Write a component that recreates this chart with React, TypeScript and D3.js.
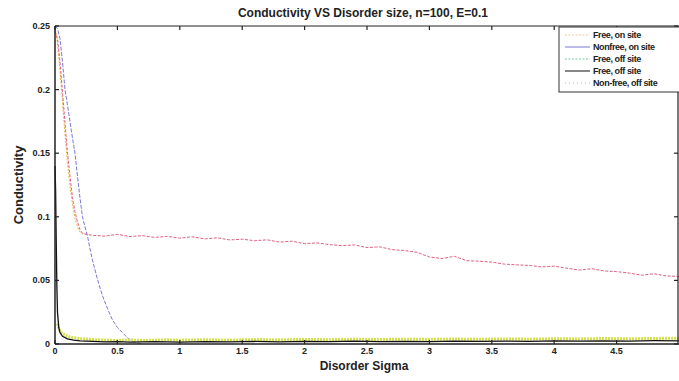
import React from "react";
import * as d3 from "d3";

const xTicks = [0, 0.5, 1, 1.5, 2, 2.5, 3, 3.5, 4, 4.5];
const yTicks = [0, 0.05, 0.1, 0.15, 0.2, 0.25];
const yTickLabels = ["0", "0.05", "0.1", "0.15", "0.2", "0.25"];
const xTickLabels = ["0", "0.5", "1", "1.5", "2", "2.5", "3", "3.5", "4", "4.5"];

// Free, on site
const freeOnX = [0, 0.02, 0.04, 0.06, 0.08, 0.1, 0.12, 0.14, 0.16, 0.18, 0.2, 0.22, 0.26];
const freeOnY = [0.25, 0.236, 0.215, 0.19, 0.165, 0.142, 0.124, 0.11, 0.099, 0.092, 0.088, 0.087, 0.086];

// Nonfree, on site
const nonfreeOnX = [0, 0.02, 0.04, 0.06, 0.08, 0.1, 0.12, 0.14, 0.16, 0.18, 0.2, 0.22, 0.24, 0.26, 0.28, 0.3, 0.34, 0.38, 0.42, 0.46, 0.5, 0.54, 0.58, 0.62, 0.66, 0.7];
const nonfreeOnY = [0.25, 0.248, 0.24, 0.222, 0.2, 0.188, 0.175, 0.162, 0.15, 0.132, 0.115, 0.1, 0.092, 0.085, 0.075, 0.066, 0.051, 0.038, 0.028, 0.019, 0.013, 0.009, 0.005, 0.002, 0.0006, 0.0003];

// Free, off site (dotted)
const freeOffDotX = [0.02, 0.03, 0.05, 0.08, 0.12, 0.2, 0.3, 0.4, 0.5, 0.6, 0.7, 0.8, 0.9, 1.0, 1.2, 1.4, 1.6, 1.8, 2.0, 2.2, 2.4, 2.6, 2.8, 3.0, 3.2, 3.4, 3.6, 3.8, 4.0, 4.2, 4.4, 4.6, 4.8, 5.0];
const freeOffDotY = [0.016, 0.012, 0.009, 0.007, 0.0055, 0.0042, 0.0035, 0.0031, 0.0029, 0.0032, 0.0028, 0.0031, 0.0033, 0.003, 0.0034, 0.0031, 0.0035, 0.0033, 0.0036, 0.0034, 0.0037, 0.0035, 0.0038, 0.0036, 0.0039, 0.0037, 0.004, 0.0038, 0.0041, 0.004, 0.0043, 0.0041, 0.0044, 0.0045];

// Free, off site (solid)
const freeOffX = [0, 0.005, 0.01, 0.015, 0.02, 0.03, 0.04, 0.06, 0.1, 0.15, 0.2, 0.3, 0.4, 0.5, 0.6, 0.8, 1.0, 1.2, 1.4, 1.6, 1.8, 2.0, 2.2, 2.4, 2.6, 2.8, 3.0, 3.2, 3.4, 3.6, 3.8, 4.0, 4.2, 4.4, 4.6, 4.8, 5.0];
const freeOffY = [0.14, 0.12, 0.08, 0.045, 0.025, 0.013, 0.009, 0.006, 0.004, 0.003, 0.0025, 0.002, 0.0016, 0.0019, 0.0014, 0.0018, 0.0015, 0.0019, 0.0016, 0.002, 0.0017, 0.0021, 0.0018, 0.0022, 0.0019, 0.0021, 0.0018, 0.0022, 0.002, 0.0023, 0.0021, 0.0024, 0.0022, 0.0025, 0.0023, 0.0026, 0.0025];

// Non-free, off site
const nonfreeOffX = [0, 0.02, 0.04, 0.06, 0.08, 0.1, 0.12, 0.14, 0.16, 0.18, 0.2, 0.22, 0.26, 0.3, 0.4, 0.5, 0.6, 0.7, 0.8, 0.9, 1.0, 1.1, 1.2, 1.3, 1.4, 1.5, 1.6, 1.7, 1.8, 1.9, 2.0, 2.1, 2.2, 2.3, 2.4, 2.5, 2.6, 2.7, 2.8, 2.9, 3.0, 3.1, 3.2, 3.3, 3.4, 3.5, 3.6, 3.7, 3.8, 3.9, 4.0, 4.1, 4.2, 4.3, 4.4, 4.5, 4.6, 4.7, 4.8, 4.9, 5.0];
const nonfreeOffY = [0.246, 0.24, 0.222, 0.198, 0.174, 0.15, 0.132, 0.115, 0.104, 0.096, 0.09, 0.087, 0.086, 0.0855, 0.0848, 0.0862, 0.0845, 0.0852, 0.0838, 0.0846, 0.0832, 0.0843, 0.0826, 0.0835, 0.0818, 0.0824, 0.0812, 0.0819, 0.0801, 0.0808, 0.0789, 0.0795, 0.0781, 0.0774, 0.0779, 0.0758, 0.0764, 0.0742, 0.0735, 0.0721, 0.0684, 0.0672, 0.0689, 0.0655, 0.0651, 0.0644, 0.0628, 0.0622, 0.0618, 0.0606, 0.0612, 0.0596, 0.0581, 0.0592, 0.0574, 0.0569, 0.0558, 0.0541, 0.0552, 0.0535, 0.0531];

const legendLabels = ["Free, on site", "Nonfree, on site", "Free, off site", "Free, off site", "Non-free, off site"];

const W = 679;
const H = 381;
const left = 55;
const right = 679;
const top = 26;
const bottom = 344;

export default function App() {
  const x = d3.scaleLinear().domain([0, 5]).range([left, right]);
  const y = d3.scaleLinear().domain([0, 0.25]).range([bottom, top]);
  const mk = (xs: number[], ys: number[]) =>
    d3.line<number>().x((_, i) => x(xs[i])).y((_, i) => y(ys[i]))(ys.map((v) => v)) || "";

  const series = [
    { xs: freeOnX, ys: freeOnY, color: "#e8b838", width: 1, dash: "2,1.5" },
    { xs: nonfreeOnX, ys: nonfreeOnY, color: "#7a78d8", width: 1, dash: "4,1.5" },
    { xs: freeOffDotX, ys: freeOffDotY, color: "#d4e050", width: 3, dash: "2,1" },
    { xs: freeOffX, ys: freeOffY, color: "#111111", width: 1.3, dash: "" },
    { xs: nonfreeOffX, ys: nonfreeOffY, color: "#e06080", width: 1, dash: "3,1.5" },
  ];
  const legendColors = ["#e8c8a0", "#7a78d8", "#78c8a0", "#111111", "#e8a0b0"];
  const legendDash = ["2,1.5", "", "2,1.5", "", "1,3"];

  const font = "'Liberation Sans', Arial, sans-serif";
  const legY = [35, 47, 59, 71, 83];

  return (
    <svg width={W} height={H} style={{ position: "absolute", left: 0, top: 0, background: "#fff" }}>
      <rect x={0} y={0} width={W} height={H} fill="#fff" />
      <g>
        {series.map((s, i) => (
          <path key={i} d={mk(s.xs, s.ys)} fill="none" stroke={s.color} strokeWidth={s.width} strokeDasharray={s.dash || undefined} />
        ))}
      </g>
      <line x1={left} y1={top} x2={right} y2={top} stroke="#222" strokeWidth={1.2} />
      <line x1={left} y1={top} x2={left} y2={bottom} stroke="#222" strokeWidth={1.5} />
      <line x1={left} y1={bottom} x2={right} y2={bottom} stroke="#222" strokeWidth={1.5} />
      <line x1={right - 1} y1={top} x2={right - 1} y2={bottom} stroke="#222" strokeWidth={1.2} />
      {xTicks.map((t, i) => (
        <g key={"xt" + i}>
          <line x1={x(t)} x2={x(t)} y1={bottom} y2={bottom - 4} stroke="#222" strokeWidth={1.2} />
          <line x1={x(t)} x2={x(t)} y1={top} y2={top + 4} stroke="#222" strokeWidth={1.2} />
          <text x={x(t)} y={354} textAnchor="middle" fontFamily={font} fontWeight="bold" fontSize={9} fill="#222">
            {xTickLabels[i]}
          </text>
        </g>
      ))}
      {yTicks.map((t, i) => (
        <g key={"yt" + i}>
          <line x1={left} x2={left + 4} y1={y(t)} y2={y(t)} stroke="#222" strokeWidth={1.2} />
          <line x1={right - 1} x2={right - 5} y1={y(t)} y2={y(t)} stroke="#222" strokeWidth={1.2} />
          <text x={50} y={y(t) + 3} textAnchor="end" fontFamily={font} fontWeight="bold" fontSize={9} fill="#222">
            {yTickLabels[i]}
          </text>
        </g>
      ))}
      <rect x={559} y={27} width={125} height={65} fill="#fff" stroke="#333" strokeWidth={1} />
      {legendLabels.map((l, i) => (
        <g key={"lg" + i}>
          <line x1={565} x2={590} y1={legY[i]} y2={legY[i]} stroke={legendColors[i]} strokeWidth={1} strokeDasharray={legendDash[i] || undefined} />
          <text x={593} y={legY[i] + 3} fontFamily={font} fontWeight="bold" fontSize={9} fill="#222" letterSpacing={-0.4}>
            {l}
          </text>
        </g>
      ))}
      <text x={363} y={17} textAnchor="middle" fontFamily={font} fontWeight="bold" fontSize={12} fill="#222">
        Conductivity VS Disorder size, n=100, E=0.1
      </text>
      <text x={364} y={370} textAnchor="middle" fontFamily={font} fontWeight="bold" fontSize={12} fill="#222">
        Disorder Sigma
      </text>
      <text transform={`translate(23,185) rotate(-90)`} textAnchor="middle" fontFamily={font} fontWeight="bold" fontSize={13} fill="#222">
        Conductivity
      </text>
    </svg>
  );
}
